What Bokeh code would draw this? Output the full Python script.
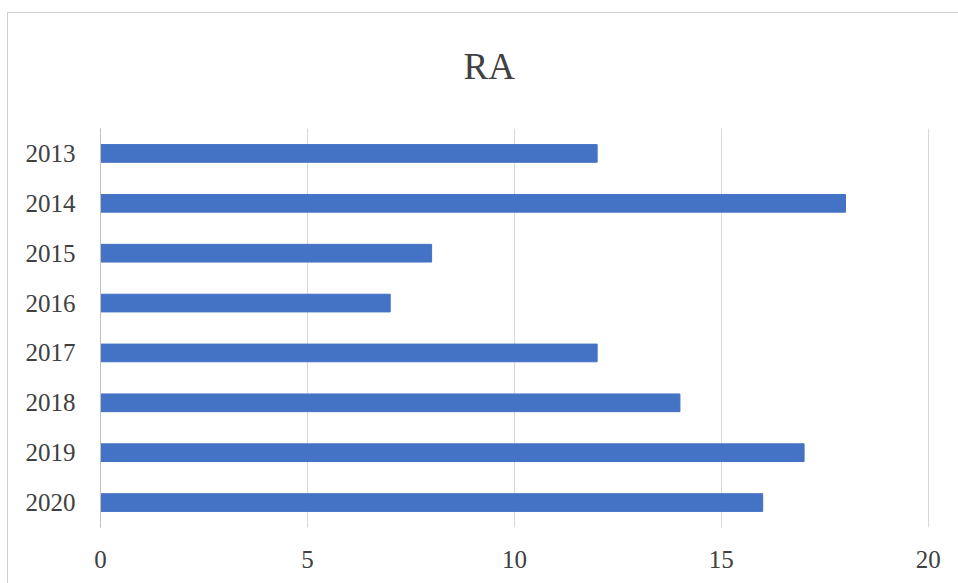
from bokeh.plotting import figure
from bokeh.models import FactorRange, Range1d, FixedTicker
from bokeh.embed import file_html
from bokeh.resources import INLINE

years = ["2013", "2014", "2015", "2016", "2017", "2018", "2019", "2020"]
values = [12, 18, 8, 7, 12, 14, 17, 16]
x_ticks = [0, 5, 10, 15, 20]
title_text = "RA"

FONT = "Liberation Serif"
TEXT = "#404040"

p = figure(width=958, height=583,
           y_range=FactorRange(factors=years[::-1]),
           x_range=Range1d(0, 20.03),
           output_backend="svg", toolbar_location=None,
           min_border_left=100, min_border_right=29,
           min_border_top=128, min_border_bottom=56)
p.styles = {"background": "linear-gradient(#d0d0d0, #d0d0d0) 7px 12px / 100% 1px no-repeat, "
                          "linear-gradient(#d0d0d0, #d0d0d0) 7px 12px / 1px 100% no-repeat, white"}
p.outline_line_color = None
p.background_fill_color = "white"
p.border_fill_color = None

p.title.text = title_text
p.title.align = "left"
p.title.offset = 363
p.title.standoff = 83
p.title.text_font = FONT
p.title.text_font_size = "37px"
p.title.text_font_style = "normal"
p.title.text_color = TEXT

p.hbar(y=years, right=values, left=0, height=0.355, color="#4472C4")

p.xaxis.ticker = FixedTicker(ticks=x_ticks)
p.xaxis.axis_line_color = None
p.xaxis.major_tick_line_color = None
p.xaxis.minor_tick_line_color = None
p.xaxis.major_label_standoff = 17
p.xaxis.major_label_text_font = FONT
p.xaxis.major_label_text_font_size = "25px"
p.xaxis.major_label_text_color = TEXT

p.yaxis.axis_line_color = "#bfbfbf"
p.yaxis.major_tick_line_color = None
p.yaxis.minor_tick_line_color = None
p.yaxis.major_label_standoff = 19
p.yaxis.major_label_text_font = FONT
p.yaxis.major_label_text_font_size = "25px"
p.yaxis.major_label_text_color = TEXT

p.xgrid.grid_line_color = "#d9d9d9"
p.xgrid.ticker = FixedTicker(ticks=[5, 10, 15, 20])
p.ygrid.grid_line_color = None

open("out.html", "w").write(file_html(p, INLINE))
